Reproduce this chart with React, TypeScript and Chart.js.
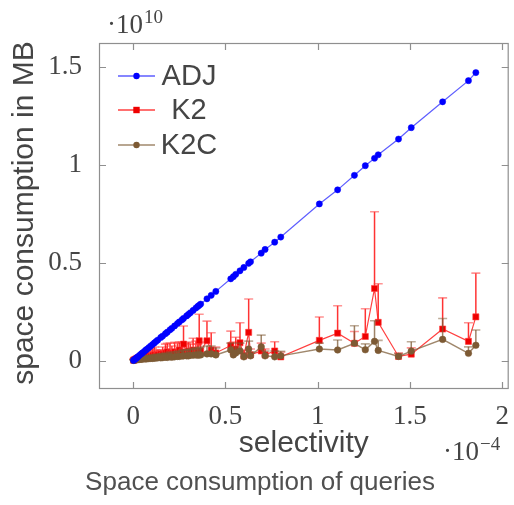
import React, { useEffect, useRef } from "react";
import { Chart, registerables } from "chart.js";

Chart.register(...registerables);

// selectivity in units of 1e-4
const selectivity = [
  0.002, 0.006, 0.010, 0.015, 0.020, 0.027, 0.035, 0.043, 0.050, 0.060,
  0.068, 0.075, 0.085, 0.095, 0.105, 0.115, 0.125, 0.134, 0.150, 0.160,
  0.175, 0.185, 0.200, 0.210, 0.225, 0.240, 0.250, 0.265, 0.273, 0.290,
  0.300, 0.310, 0.325, 0.340, 0.350, 0.358, 0.366, 0.400, 0.423, 0.448,
  0.529, 0.543, 0.556, 0.579, 0.600, 0.626, 0.636, 0.694, 0.715, 0.767,
  0.800, 1.009, 1.108, 1.199, 1.258, 1.308, 1.328, 1.438, 1.507, 1.677,
  1.817, 1.857,
];

// space consumption in units of 1e10 MB
const adjSpace = [
  0.002, 0.005, 0.008, 0.012, 0.016, 0.021, 0.028, 0.034, 0.040, 0.047,
  0.054, 0.059, 0.067, 0.075, 0.083, 0.091, 0.099, 0.106, 0.119, 0.126,
  0.138, 0.146, 0.158, 0.166, 0.178, 0.190, 0.198, 0.209, 0.216, 0.229,
  0.237, 0.245, 0.257, 0.269, 0.277, 0.283, 0.289, 0.316, 0.334, 0.354,
  0.418, 0.429, 0.441, 0.459, 0.476, 0.497, 0.505, 0.549, 0.568, 0.605,
  0.631, 0.800, 0.872, 0.946, 0.995, 1.033, 1.051, 1.131, 1.189, 1.321,
  1.429, 1.470,
];

const k2Space = [
  0.003, 0.004, 0.006, 0.008, 0.010, 0.012, 0.015, 0.014, 0.018, 0.020,
  0.016, 0.022, 0.025, 0.020, 0.028, 0.030, 0.025, 0.030, 0.035, 0.030,
  0.040, 0.046, 0.040, 0.035, 0.046, 0.040, 0.055, 0.045, 0.085, 0.040,
  0.050, 0.045, 0.055, 0.050, 0.045, 0.102, 0.050, 0.102, 0.055, 0.040,
  0.078, 0.045, 0.060, 0.092, 0.025, 0.145, 0.030, 0.050, 0.030, 0.050,
  0.020, 0.104, 0.141, 0.089, 0.124, 0.369, 0.196, 0.022, 0.034, 0.162,
  0.099, 0.224,
];

const k2Error = [
  0.005, 0.006, 0.008, 0.010, 0.012, 0.014, 0.016, 0.018, 0.020, 0.025,
  0.020, 0.030, 0.030, 0.028, 0.035, 0.040, 0.030, 0.025, 0.020, 0.040,
  0.045, 0.043, 0.050, 0.040, 0.048, 0.050, 0.040, 0.050, 0.092, 0.050,
  0.045, 0.040, 0.060, 0.050, 0.040, 0.135, 0.045, 0.100, 0.088, 0.030,
  0.073, 0.050, 0.060, 0.102, 0.030, 0.170, 0.030, 0.040, 0.030, 0.047,
  0.025, 0.119, 0.140, 0.060, 0.141, 0.391, 0.197, 0.018, 0.032, 0.159,
  0.095, 0.223,
];

const k2cSpace = [
  0.002, 0.003, 0.004, 0.005, 0.006, 0.006, 0.007, 0.008, 0.008, 0.010,
  0.009, 0.010, 0.011, 0.012, 0.012, 0.013, 0.014, 0.015, 0.015, 0.016,
  0.018, 0.017, 0.020, 0.018, 0.020, 0.022, 0.022, 0.024, 0.025, 0.025,
  0.025, 0.028, 0.028, 0.030, 0.028, 0.030, 0.030, 0.035, 0.035, 0.030,
  0.055, 0.030, 0.040, 0.050, 0.020, 0.060, 0.025, 0.071, 0.025, 0.020,
  0.025, 0.060, 0.055, 0.089, 0.056, 0.099, 0.053, 0.022, 0.049, 0.109,
  0.038, 0.079,
];

const k2cError = [
  0.003, 0.004, 0.005, 0.006, 0.008, 0.008, 0.010, 0.010, 0.012, 0.012,
  0.012, 0.014, 0.015, 0.014, 0.016, 0.016, 0.018, 0.018, 0.020, 0.020,
  0.022, 0.020, 0.025, 0.022, 0.025, 0.025, 0.028, 0.028, 0.030, 0.030,
  0.032, 0.030, 0.035, 0.035, 0.030, 0.035, 0.040, 0.040, 0.040, 0.035,
  0.035, 0.030, 0.030, 0.040, 0.020, 0.040, 0.020, 0.060, 0.025, 0.030,
  0.023, 0.030, 0.051, 0.090, 0.030, 0.105, 0.051, 0.015, 0.048, 0.107,
  0.033, 0.078,
];

const xTickValues = [0, 0.5, 1, 1.5, 2];
const xTickLabels = ["0", "0.5", "1", "1.5", "2"];
const yTickValues = [0, 0.5, 1, 1.5];
const yTickLabels = ["0", "0.5", "1", "1.5"];

const seriesNames = ["ADJ", "K2", "K2C"];
const xAxisTitle = "selectivity";
const yAxisTitle = "space consumption in MB";
const caption = "Space consumption of queries";
const xExponent = "\u22124";
const yExponent = "10";

const BLUE = "#0000ff";
const BLUE_LINE = "rgba(40,40,255,0.75)";
const RED = "#ee0000";
const RED_LINE = "rgba(255,30,30,0.85)";
const BROWN = "#7d5a34";
const BROWN_LINE = "rgba(128,96,60,0.75)";
const FRAME = "#8f8f8f";
const TEXT = "#454545";

const errorsByLabel: Record<string, { values: number[]; line: string; cap: string }> = {
  K2: { values: k2Error, line: "rgba(255,0,0,0.8)", cap: "rgba(255,60,60,0.55)" },
  K2C: { values: k2cError, line: "rgba(125,90,52,0.75)", cap: "rgba(125,90,52,0.5)" },
};

const toPoints = (ys: number[]) => selectivity.map((x, i) => ({ x, y: ys[i] }));

const decorPlugin = {
  id: "decor",
  beforeDatasetDraw(chart: any, args: any) {
    const ds = chart.data.datasets[args.index];
    const err = errorsByLabel[ds.label];
    if (!err) return;
    const { ctx, chartArea } = chart;
    const xs = chart.scales.x;
    const ys = chart.scales.y;
    ctx.save();
    ctx.beginPath();
    ctx.rect(chartArea.left, chartArea.top, chartArea.right - chartArea.left, chartArea.bottom - chartArea.top);
    ctx.clip();
    ds.data.forEach((p: any, i: number) => {
      const px = xs.getPixelForValue(p.x);
      const py0 = ys.getPixelForValue(p.y);
      const py1 = ys.getPixelForValue(p.y + err.values[i]);
      ctx.strokeStyle = err.line;
      ctx.lineWidth = 1.5;
      ctx.beginPath();
      ctx.moveTo(px, py0);
      ctx.lineTo(px, py1);
      ctx.stroke();
      ctx.strokeStyle = err.cap;
      ctx.lineWidth = 1.6;
      ctx.beginPath();
      ctx.moveTo(px - 4.5, py1);
      ctx.lineTo(px + 4.5, py1);
      ctx.stroke();
    });
    ctx.restore();
  },
  afterDraw(chart: any) {
    const { ctx, chartArea } = chart;
    const { left, right, top, bottom } = chartArea;
    const xs = chart.scales.x;
    const ys = chart.scales.y;
    ctx.save();
    // frame
    ctx.strokeStyle = FRAME;
    ctx.lineWidth = 1.2;
    ctx.strokeRect(left + 0.5, top + 0.5, right - left - 1, bottom - top - 1);
    // inward ticks on all sides
    ctx.beginPath();
    xTickValues.forEach((v) => {
      const px = Math.round(xs.getPixelForValue(v)) + 0.5;
      ctx.moveTo(px, bottom);
      ctx.lineTo(px, bottom - 7);
      ctx.moveTo(px, top);
      ctx.lineTo(px, top + 7);
    });
    yTickValues.forEach((v) => {
      const py = Math.round(ys.getPixelForValue(v)) + 0.5;
      ctx.moveTo(left, py);
      ctx.lineTo(left + 7, py);
      ctx.moveTo(right, py);
      ctx.lineTo(right - 7, py);
    });
    ctx.stroke();

    // legend
    const legend = [
      { name: seriesNames[0], line: BLUE_LINE, fill: BLUE, style: "circle", y: 76 },
      { name: seriesNames[1], line: RED_LINE, fill: RED, style: "rect", y: 110 },
      { name: seriesNames[2], line: BROWN_LINE, fill: BROWN, style: "circle", y: 145 },
    ];
    legend.forEach((e) => {
      ctx.strokeStyle = e.line;
      ctx.lineWidth = 1.3;
      ctx.beginPath();
      ctx.moveTo(118, e.y);
      ctx.lineTo(155, e.y);
      ctx.stroke();
      ctx.fillStyle = e.fill;
      ctx.beginPath();
      if (e.style === "circle") {
        ctx.arc(136.5, e.y, 3.2, 0, Math.PI * 2);
      } else {
        ctx.rect(133.3, e.y - 3.2, 6.4, 6.4);
      }
      ctx.fill();
      ctx.fillStyle = TEXT;
      ctx.font = "29px 'Liberation Sans', Arial, sans-serif";
      ctx.textAlign = "center";
      ctx.textBaseline = "middle";
      ctx.fillText(e.name, 189, e.y + 1);
    });

    // axis titles
    ctx.fillStyle = TEXT;
    ctx.font = "30px 'Liberation Sans', Arial, sans-serif";
    ctx.textAlign = "center";
    ctx.textBaseline = "alphabetic";
    ctx.fillText(xAxisTitle, (left + right) / 2, 452);
    ctx.save();
    ctx.translate(33, 213);
    ctx.rotate(-Math.PI / 2);
    ctx.fillText(yAxisTitle, 0, 0);
    ctx.restore();

    // caption
    ctx.fillStyle = "#505050";
    ctx.font = "26px 'Liberation Sans', Arial, sans-serif";
    ctx.textAlign = "center";
    ctx.fillText(caption, 260, 490);

    // exponent labels
    ctx.fillStyle = TEXT;
    ctx.textAlign = "left";
    ctx.font = "27px 'Liberation Serif', serif";
    const yBase = "\u00b710";
    ctx.fillText(yBase, 107, 33);
    const w1 = ctx.measureText(yBase).width;
    ctx.font = "19px 'Liberation Serif', serif";
    ctx.fillText(yExponent, 107 + w1 + 1, 23);

    ctx.font = "27px 'Liberation Serif', serif";
    ctx.fillText(yBase, 443, 460);
    const w2 = ctx.measureText(yBase).width;
    ctx.font = "19px 'Liberation Serif', serif";
    ctx.fillText(xExponent, 443 + w2 + 1, 450);
    ctx.restore();
  },
};

export default function App() {
  const canvasRef = useRef<HTMLCanvasElement | null>(null);

  useEffect(() => {
    if (!canvasRef.current) return;
    const chart = new Chart(canvasRef.current, {
      type: "line",
      data: {
        datasets: [
          {
            label: seriesNames[0],
            data: toPoints(adjSpace),
            borderColor: BLUE_LINE,
            borderWidth: 1.2,
            backgroundColor: BLUE,
            pointBackgroundColor: BLUE,
            pointBorderColor: BLUE,
            pointBorderWidth: 0.5,
            pointStyle: "circle",
            pointRadius: 3.1,
            tension: 0,
          },
          {
            label: seriesNames[2],
            data: toPoints(k2cSpace),
            borderColor: BROWN_LINE,
            borderWidth: 1.5,
            backgroundColor: BROWN,
            pointBackgroundColor: BROWN,
            pointBorderColor: BROWN,
            pointBorderWidth: 0.5,
            pointStyle: "circle",
            pointRadius: 3.3,
            tension: 0,
          },
          {
            label: seriesNames[1],
            data: toPoints(k2Space),
            borderColor: RED_LINE,
            borderWidth: 1.2,
            backgroundColor: RED,
            pointBackgroundColor: RED,
            pointBorderColor: "rgba(255,60,60,0.6)",
            pointBorderWidth: 1,
            pointStyle: "rect",
            pointRadius: 4.3,
            tension: 0,
          },
        ],
      },
      options: {
        animation: false,
        responsive: false,
        events: [],
        layout: { padding: { left: 0, right: 2, top: 43, bottom: 0 } },
        plugins: {
          legend: { display: false },
          tooltip: { enabled: false },
          title: { display: false },
        },
        scales: {
          x: {
            type: "linear",
            min: -0.185,
            max: 2.035,
            grid: { display: false },
            border: { display: false },
            ticks: {
              color: TEXT,
              font: { family: "'Liberation Serif', serif", size: 27 },
              padding: 4,
              maxRotation: 0,
              autoSkip: false,
              callback: (v: any) => {
                const i = xTickValues.indexOf(Number(v));
                return i >= 0 ? xTickLabels[i] : "";
              },
            },
            afterBuildTicks: (axis: any) => {
              axis.ticks = xTickValues.map((value) => ({ value }));
            },
            afterFit: (s: any) => {
              s.height = 116;
            },
          },
          y: {
            type: "linear",
            min: -0.144,
            max: 1.621,
            grid: { display: false },
            border: { display: false },
            ticks: {
              color: TEXT,
              font: { family: "'Liberation Serif', serif", size: 27 },
              padding: 9,
              autoSkip: false,
              callback: (v: any) => {
                const i = yTickValues.indexOf(Number(v));
                return i >= 0 ? yTickLabels[i] : "";
              },
            },
            afterBuildTicks: (axis: any) => {
              axis.ticks = yTickValues.map((value) => ({ value }));
            },
            afterFit: (s: any) => {
              s.width = 99;
            },
          },
        },
      },
      plugins: [decorPlugin],
    });
    return () => chart.destroy();
  }, []);

  return (
    <div style={{ position: "absolute", left: 0, top: 0, width: 514, height: 505, background: "#fff" }}>
      <canvas ref={canvasRef} width={514} height={505} style={{ width: 514, height: 505, display: "block" }} />
    </div>
  );
}
